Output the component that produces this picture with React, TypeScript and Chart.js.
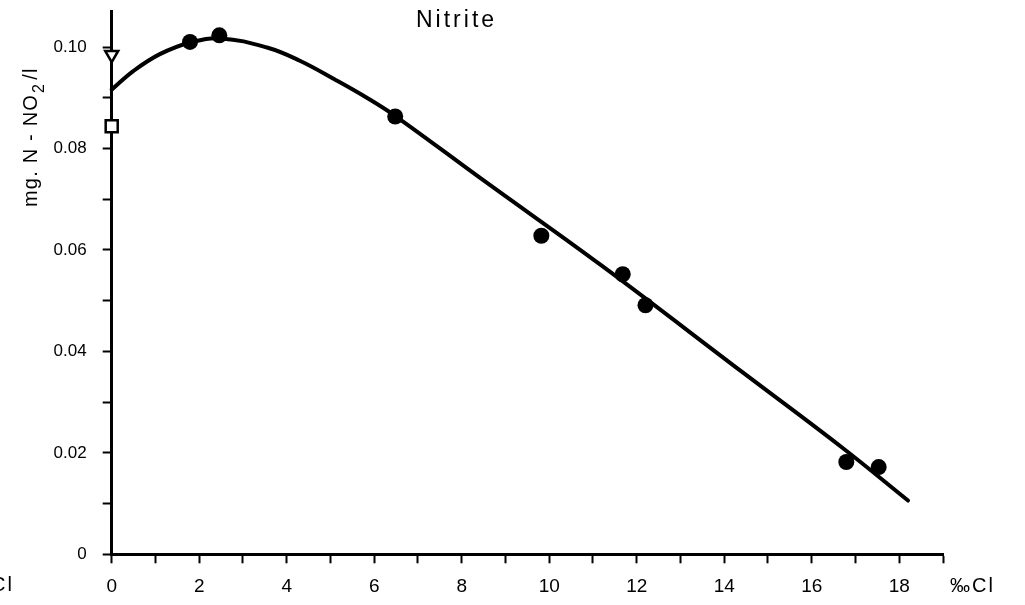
import React, { useEffect, useRef } from 'react';
import { Chart, registerables } from 'chart.js';

Chart.register(...registerables);

// Fitted curve
const fitX = [0, 0.5, 1.1, 1.8, 2.5, 3.55, 4.3, 5.1, 5.85, 6.5, 8.5, 11.2, 14.4, 16.7, 18.2];
const fitY = [0.0916, 0.0953, 0.0986, 0.1009, 0.1017, 0.0999, 0.0973, 0.0936, 0.0899, 0.0863, 0.0737, 0.0569, 0.036, 0.021, 0.0106];

// Observed points
const obsX = [1.79, 2.46, 6.48, 9.82, 11.68, 12.2, 16.79, 17.53];
const obsY = [0.101, 0.1023, 0.0863, 0.0628, 0.0552, 0.0491, 0.0182, 0.0172];

// Open markers on the y axis
const triangleX = [0];
const triangleY = [0.0985];
const squareX = [0];
const squareY = [0.0844];

// Axis ticks
const xTickValues = [0, 1, 2, 3, 4, 5, 6, 7, 8, 9, 10, 11, 12, 13, 14, 15, 16, 17, 18, 19];
const xTickLabels = ['0', '', '2', '', '4', '', '6', '', '8', '', '10', '', '12', '', '14', '', '16', '', '18', ''];
const yTickValues = [0, 0.01, 0.02, 0.03, 0.04, 0.05, 0.06, 0.07, 0.08, 0.09, 0.1];
const yTickLabels = ['0', '', '0.02', '', '0.04', '', '0.06', '', '0.08', '', '0.10'];

const titleText = 'Nitrite';
const yTitleMain = 'mg. N - NO';
const yTitleSub = '2';
const yTitleEnd = '/l';
const xUnitText = '‰Cl';

const FONT = '"Liberation Sans", Arial, sans-serif';

const pts = (xs: number[], ys: number[]) => xs.map((x, i) => ({ x, y: ys[i] }));

const textPlugin = {
  id: 'customText',
  afterDraw(chart: any) {
    const ctx = chart.ctx as CanvasRenderingContext2D;
    ctx.save();
    ctx.fillStyle = '#000';
    // Title
    ctx.font = `23px ${FONT}`;
    (ctx as any).letterSpacing = '3px';
    ctx.textAlign = 'left';
    ctx.textBaseline = 'alphabetic';
    ctx.fillText(titleText, 416, 27);

    // x unit right
    ctx.font = `20px ${FONT}`;
    (ctx as any).letterSpacing = '2px';
    ctx.textAlign = 'left';
    ctx.fillText(xUnitText, 950, 592);
    // x unit fragment on the left edge
    ctx.textAlign = 'right';
    ctx.fillText(xUnitText, 14, 591);

    // y title rotated
    ctx.save();
    ctx.translate(37, 207);
    ctx.rotate(-Math.PI / 2);
    ctx.textAlign = 'left';
    ctx.font = `20px ${FONT}`;
    (ctx as any).letterSpacing = '1.2px';
    ctx.fillText(yTitleMain, 0, 0);
    const w1 = ctx.measureText(yTitleMain).width;
    ctx.font = `16px ${FONT}`;
    ctx.fillText(yTitleSub, w1 + 1, 7);
    const w2 = ctx.measureText(yTitleSub).width;
    ctx.font = `20px ${FONT}`;
    ctx.fillText(yTitleEnd, w1 + w2 + 4, 0);
    ctx.restore();

    ctx.restore();
  },
};

export default function App() {
  const ref = useRef<HTMLCanvasElement | null>(null);

  useEffect(() => {
    if (!ref.current) return;
    const chart = new Chart(ref.current, {
      type: 'scatter',
      data: {
        datasets: [
          {
            label: 'observed',
            data: pts(obsX, obsY),
            pointRadius: 8,
            pointBackgroundColor: '#000',
            pointBorderWidth: 0,
            borderWidth: 0,
            clip: false as any,
          },
          {
            label: 'triangle',
            data: pts(triangleX, triangleY),
            pointStyle: 'triangle',
            rotation: 180,
            pointRadius: 7.5,
            pointBackgroundColor: '#fff',
            pointBorderColor: '#000',
            pointBorderWidth: 2.5,
            clip: false as any,
          },
          {
            label: 'square',
            data: pts(squareX, squareY),
            pointStyle: 'rect',
            pointRadius: 8.5,
            pointBackgroundColor: '#fff',
            pointBorderColor: '#000',
            pointBorderWidth: 2.5,
            clip: false as any,
          },
          {
            type: 'line' as any,
            label: 'fit',
            data: pts(fitX, fitY),
            borderColor: '#000',
            borderWidth: 4,
            pointRadius: 0,
            showLine: true,
            fill: false,
            tension: 0.4,
            borderCapStyle: 'round',
            borderJoinStyle: 'round',
            clip: false as any,
          } as any,
        ],
      },
      options: {
        responsive: false,
        animation: false,
        events: [],
        layout: { padding: { top: 8, right: 82, bottom: 0, left: 0 } },
        plugins: {
          legend: { display: false },
          tooltip: { enabled: false },
          title: { display: false },
        },
        scales: {
          x: {
            type: 'linear',
            min: 0,
            max: 19,
            afterBuildTicks: (axis: any) => {
              axis.ticks = xTickValues.map((v) => ({ value: v }));
            },
            afterFit: (axis: any) => {
              axis.height = 50.7;
              axis.paddingLeft = 0;
              axis.paddingRight = 0;
            },
            grid: {
              display: true,
              drawOnChartArea: false,
              drawTicks: true,
              tickLength: 9,
              tickWidth: 2,
              tickColor: '#000',
              color: '#000',
            },
            border: { display: true, color: '#000', width: 3 },
            ticks: {
              autoSkip: false,
              maxRotation: 0,
              padding: 12,
              color: '#000',
              font: { family: FONT, size: 19 },
              callback: (_v: any, i: number) => xTickLabels[i],
            },
          },
          y: {
            type: 'linear',
            min: 0,
            max: 0.1071,
            afterBuildTicks: (axis: any) => {
              axis.ticks = yTickValues.map((v) => ({ value: v }));
            },
            afterFit: (axis: any) => {
              axis.width = 111.7;
              axis.paddingTop = 0;
              axis.paddingBottom = 0;
            },
            grid: {
              display: true,
              drawOnChartArea: false,
              drawTicks: true,
              tickLength: 9,
              tickWidth: 2,
              tickColor: '#000',
              color: '#000',
            },
            border: { display: true, color: '#000', width: 3 },
            ticks: {
              autoSkip: false,
              padding: 16,
              color: '#000',
              font: { family: FONT, size: 17 },
              callback: (_v: any, i: number) => yTickLabels[i],
            },
          },
        },
      },
      plugins: [textPlugin],
    });
    return () => chart.destroy();
  }, []);

  return (
    <canvas
      ref={ref}
      width={1025}
      height={605}
      style={{ position: 'absolute', left: 0, top: 0, display: 'block', background: '#fff' }}
    />
  );
}
